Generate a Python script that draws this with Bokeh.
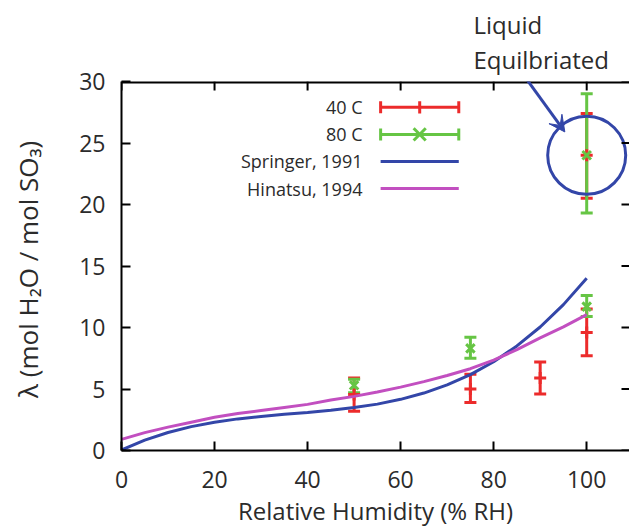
from bokeh.plotting import figure
from bokeh.models import (Whisker, TeeHead, Arrow, VeeHead, Label, Title,
                          FixedTicker, ColumnDataSource, Range1d)
from bokeh.embed import file_html
from bokeh.resources import INLINE

# ---------------- data ----------------
x_ticks = [0, 20, 40, 60, 80, 100]
y_ticks = [0, 5, 10, 15, 20, 25, 30]

# 40 C measurements (vapor)
rh_40 = [50, 75, 90, 100]
lam_40 = [4.55, 5.0, 5.9, 9.6]
lo_40 = [3.2, 3.9, 4.6, 7.7]
hi_40 = [5.9, 6.2, 7.2, 11.5]

# 80 C measurements (vapor)
rh_80 = [50, 75, 100]
lam_80 = [5.3, 8.3, 11.7]
lo_80 = [4.7, 7.5, 10.9]
hi_80 = [5.8, 9.2, 12.6]

# liquid equilibrated
rh_liq = [100]
lam_liq_40 = [24.0]
lo_liq_40 = [20.5]
hi_liq_40 = [27.4]
lam_liq_80 = [24.0]
lo_liq_80 = [19.3]
hi_liq_80 = [29.0]

# model curves
rh_curve = [0, 5, 10, 15, 20, 25, 30, 35, 40, 45, 50, 55, 60, 65, 70, 75, 80, 85, 90, 95, 100]
springer = [0.04, 0.84, 1.46, 1.94, 2.30, 2.57, 2.77, 2.94, 3.09, 3.27, 3.49, 3.77, 4.16,
            4.67, 5.33, 6.17, 7.22, 8.50, 10.04, 11.86, 14.0]
hinatsu = [0.9, 1.45, 1.9, 2.3, 2.7, 3.0, 3.25, 3.5, 3.75, 4.1, 4.4, 4.75, 5.15, 5.6,
           6.1, 6.65, 7.35, 8.2, 9.15, 10.05, 11.05]

labels = ["40 C", "80 C", "Springer, 1991", "Hinatsu, 1994"]
note = "Liquid\nEquilbriated"

RED = "#ec2b2b"
GREEN = "#66c544"
BLUE = "#3346a8"
MAGENTA = "#c24fc0"
TXT = "#2b2b2b"
FONT = "Open Sans"

X_END = 109.2
PX_X = 508 / X_END   # pixels per x unit
PX_Y = 369 / 30      # pixels per y unit

p = figure(width=629, height=529, x_range=Range1d(0, X_END), y_range=Range1d(0, 30),
           output_backend="svg", toolbar_location=None,
           min_border_left=121, min_border_top=81, min_border_bottom=79, min_border_right=0)
p.grid.grid_line_color = None
p.outline_line_color = None

for ax in (p.xaxis[0], p.yaxis[0]):
    ax.axis_line_width = 2
    ax.axis_line_color = "black"
    ax.major_tick_in = 9
    ax.major_tick_out = 0
    ax.major_tick_line_width = 2
    ax.minor_tick_line_color = None
    ax.major_label_text_font = FONT
    ax.major_label_text_font_size = "23px"
    ax.major_label_text_color = TXT
    ax.axis_label_text_font = FONT
    ax.axis_label_text_font_size = "24px"
    ax.axis_label_text_font_style = "normal"
    ax.axis_label_text_color = TXT

p.xaxis.ticker = FixedTicker(ticks=x_ticks)
p.yaxis.ticker = FixedTicker(ticks=y_ticks)
p.xaxis.axis_label = "Relative Humidity (% RH)"
p.yaxis.axis_label = "λ  (mol H₂O / mol SO₃)"
p.yaxis.axis_label_text_font_size = "26px"
p.xaxis.major_label_standoff = 20
p.yaxis.major_label_standoff = 16
p.xaxis.axis_label_standoff = 3
p.yaxis.axis_label_standoff = 30

# mirrored top border and inward ticks on top / right
p.add_layout(Arrow(x_start=0, y_start=30, x_end=X_END, y_end=30, line_color="black",
                   line_width=4, end=None))
for t in x_ticks:
    p.add_layout(Arrow(x_start=t, y_start=30, x_end=t, y_end=30 - 9 / PX_Y,
                       line_color="black", line_width=2, end=None))
for t in y_ticks:
    p.add_layout(Arrow(x_start=X_END, y_start=t, x_end=X_END - 8 / PX_X, y_end=t,
                       line_color="black", line_width=2, end=None))


def errbars(xs, ys, lo, hi, color, marker):
    src = ColumnDataSource(dict(x=xs, y=ys, lo=lo, hi=hi))
    w = Whisker(source=src, base="x", lower="lo", upper="hi", line_color=color, line_width=3,
                upper_head=TeeHead(size=12, line_color=color, line_width=3),
                lower_head=TeeHead(size=12, line_color=color, line_width=3))
    p.add_layout(w)
    p.scatter("x", "y", source=src, marker=marker, size=12, line_width=3, line_color=color)


errbars(rh_40, lam_40, lo_40, hi_40, RED, "cross")
errbars(rh_liq, lam_liq_40, lo_liq_40, hi_liq_40, RED, "cross")
errbars(rh_80, lam_80, lo_80, hi_80, GREEN, "x")
errbars(rh_liq, lam_liq_80, lo_liq_80, hi_liq_80, GREEN, "x")

p.line(rh_curve, springer, line_width=3, line_color=BLUE)
p.line(rh_curve, hinatsu, line_width=3, line_color=MAGENTA)

# circle around the liquid-equilibrated points
p.scatter(rh_liq, lam_liq_40, marker="circle", size=78, fill_color=None,
          line_color=BLUE, line_width=3)

# annotation text above the frame
p.add_layout(Title(text=note, align="left", offset=352, standoff=11,
                   text_font=FONT, text_font_size="24px", text_font_style="normal",
                   text_line_height=1.05, text_color=TXT), "above")
p.add_layout(Arrow(x_start=86.2, y_start=30.65, x_end=95.3, y_end=25.9, line_color=BLUE,
                   line_width=3, end=VeeHead(size=16, fill_color=BLUE, line_color=BLUE)))

# legend (text on the left, sample on the right)
rows = [27.9, 25.7, 23.5, 21.3]
lx0, lx1, lxm = 55.7, 72.5, 64.1
for lab, yy in zip(labels, rows):
    p.add_layout(Label(x=51.8, y=yy, text=lab, text_align="right", text_baseline="middle",
                       text_font=FONT, text_font_size="18px", text_color=TXT))
p.add_layout(Arrow(x_start=lx0, y_start=rows[0], x_end=lx1, y_end=rows[0], line_color=RED,
                   line_width=3, start=TeeHead(size=12, line_color=RED, line_width=3),
                   end=TeeHead(size=12, line_color=RED, line_width=3)))
p.add_layout(Arrow(x_start=lxm, y_start=rows[0] - 0.5, x_end=lxm, y_end=rows[0] + 0.5,
                   line_color=RED, line_width=3, end=None))
p.add_layout(Arrow(x_start=lx0, y_start=rows[1], x_end=lx1, y_end=rows[1], line_color=GREEN,
                   line_width=3, start=TeeHead(size=12, line_color=GREEN, line_width=3),
                   end=TeeHead(size=12, line_color=GREEN, line_width=3)))
p.add_layout(Arrow(x_start=lxm - 1.3, y_start=rows[1] - 0.5, x_end=lxm + 1.3, y_end=rows[1] + 0.5,
                   line_color=GREEN, line_width=3, end=None))
p.add_layout(Arrow(x_start=lxm - 1.3, y_start=rows[1] + 0.5, x_end=lxm + 1.3, y_end=rows[1] - 0.5,
                   line_color=GREEN, line_width=3, end=None))
p.add_layout(Arrow(x_start=lx0, y_start=rows[2], x_end=lx1, y_end=rows[2], line_color=BLUE,
                   line_width=3, end=None))
p.add_layout(Arrow(x_start=lx0, y_start=rows[3], x_end=lx1, y_end=rows[3], line_color=MAGENTA,
                   line_width=3, end=None))

open("out.html", "w").write(file_html(p, INLINE))
